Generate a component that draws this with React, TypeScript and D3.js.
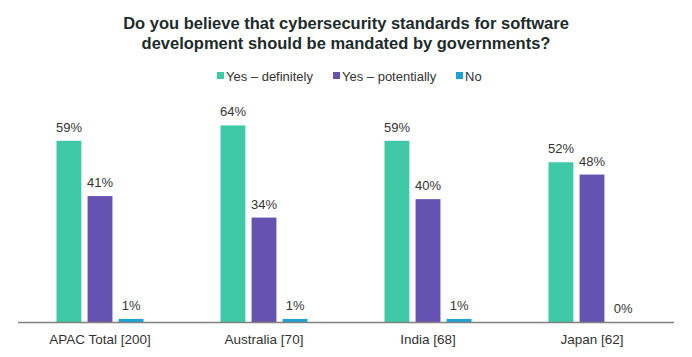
import React from "react";
import * as d3 from "d3";

const categories = ["APAC Total [200]", "Australia [70]", "India [68]", "Japan [62]"];
const seriesNames = ["Yes – definitely", "Yes – potentially", "No"];
const definitely = [59, 64, 59, 52];
const potentially = [41, 34, 40, 48];
const no = [1, 1, 1, 0];
const seriesValues = [definitely, potentially, no];
const colors = ["#3ec8a5", "#6652b0", "#1ba3d8"];
const titleLines = [
  "Do you believe that cybersecurity standards for software",
  "development should be mandated by governments?",
];

export default function App() {
  const W = 692, H = 357;
  const x0 = d3.scaleBand().domain(categories).range([18, 674]).padding(0);
  const x1 = d3.scaleBand().domain(seriesNames).range([0, 87]).paddingInner(0.2);
  const y = d3.scaleLinear().domain([0, 70]).range([322, 107]);
  const font = "Liberation Sans, Arial, sans-serif";
  const legendX = [217, 333, 456];
  return (
    <svg width={W} height={H} style={{ position: "absolute", left: 0, top: 0, background: "#fff" }}>
      {titleLines.map((t, i) => (
        <text key={i} x={346} y={29 + i * 20} textAnchor="middle" fontFamily={font} fontWeight="bold" fontSize={16.5} fill="#1e2b2b">{t}</text>
      ))}
      {seriesNames.map((s, i) => (
        <g key={s}>
          <rect x={legendX[i]} y={72} width={7} height={7} fill={colors[i]} />
          <text x={legendX[i] + 9} y={80.5} fontFamily={font} fontSize={13} fill="#333">{s}</text>
        </g>
      ))}
      {categories.map((c, ci) => {
        const gx = (x0(c) as number) + x0.bandwidth() / 2 - 43.5;
        return (
          <g key={c}>
            {seriesNames.map((s, si) => {
              const v = seriesValues[si][ci];
              const bx = gx + (x1(s) as number);
              return (
                <g key={s}>
                  {v > 0 && <rect x={bx} y={y(v)} width={x1.bandwidth()} height={y(0) - y(v)} fill={colors[si]} />}
                  <text x={bx + x1.bandwidth() / 2} y={y(v) - 9} textAnchor="middle" fontFamily={font} fontSize={13} fill="#333">{v}%</text>
                </g>
              );
            })}
            <text x={(x0(c) as number) + x0.bandwidth() / 2} y={344} textAnchor="middle" fontFamily={font} fontSize={13.5} fill="#333">{c}</text>
          </g>
        );
      })}
      <line x1={18} x2={674} y1={322.5} y2={322.5} stroke="#808080" strokeWidth={1.5} />
    </svg>
  );
}
